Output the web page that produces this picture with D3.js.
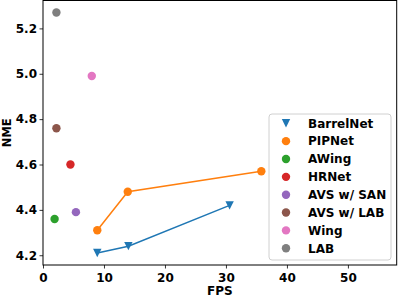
<!DOCTYPE html>
<html><head><meta charset="utf-8">
<script src="https://cdn.jsdelivr.net/npm/d3@7"></script>
<style>
body{margin:0;background:#fff;}
text{font-family:"DejaVu Sans",sans-serif;font-weight:bold;}
</style></head>
<body><svg id="c" width="399" height="299"></svg>
<script>
const seriesNames = ["BarrelNet","PIPNet","AWing","HRNet","AVS w/ SAN","AVS w/ LAB","Wing","LAB"];
const seriesColors = ["#1f77b4","#ff7f0e","#2ca02c","#d62728","#9467bd","#8c564b","#e377c2","#7f7f7f"];
const barrelFPS = [8.9, 14.0, 30.6];
const barrelNME = [4.21, 4.24, 4.42];
const pipFPS = [8.9, 13.9, 35.8];
const pipNME = [4.31, 4.48, 4.57];
const otherFPS = [1.9, 4.5, 5.4, 2.2, 8.0, 2.2];
const otherNME = [4.36, 4.60, 4.39, 4.76, 4.99, 5.27];
const xTicks = [0,10,20,30,40,50];
const yTicks = [4.2,4.4,4.6,4.8,5.0,5.2];
const xMax = 58;

const svg = d3.select("#c");
const W=399,H=299, m={l:43,r:2.3,t:0.5,b:34};
const allNME = barrelNME.concat(pipNME, otherNME);
const [ymin,ymax] = d3.extent(allNME);
const pad = (ymax-ymin)*0.05;
const x = d3.scaleLinear().domain([0,xMax]).range([m.l, W-m.r]);
const y = d3.scaleLinear().domain([ymin-pad, ymax+pad]).range([H-m.b, m.t]);

const xa = svg.append("g").attr("transform",`translate(0,${H-m.b})`)
  .call(d3.axisBottom(x).tickValues(xTicks).tickFormat(d3.format("d")).tickSize(3.5).tickPadding(4.8));
const ya = svg.append("g").attr("transform",`translate(${m.l},0)`)
  .call(d3.axisLeft(y).tickValues(yTicks).tickFormat(d3.format(".1f")).tickSize(3.5).tickPadding(2.5));
[xa,ya].forEach(a=>{a.select(".domain").remove();a.selectAll("text").attr("font-size",12).attr("font-weight","bold").attr("fill","#000");a.selectAll("line").attr("stroke","#000").attr("stroke-width",0.8);});

svg.append("rect").attr("x",m.l).attr("y",m.t).attr("width",W-m.r-m.l).attr("height",H-m.b-m.t)
  .attr("fill","none").attr("stroke","#000").attr("stroke-width",1);

const line = d3.line().x(d=>x(d[0])).y(d=>y(d[1]));
const triPath = "M-4.2,-4.2L4.2,-4.2L0,4.2Z";
function drawLineSeries(fps, nme, color, marker){
  const pts = fps.map((f,i)=>[f,nme[i]]);
  svg.append("path").attr("d",line(pts)).attr("fill","none").attr("stroke",color).attr("stroke-width",1.5);
  pts.forEach(p=>{
    if(marker==="v") svg.append("path").attr("d",triPath).attr("fill",color)
      .attr("transform",`translate(${x(p[0])},${y(p[1])})`);
    else svg.append("circle").attr("cx",x(p[0])).attr("cy",y(p[1])).attr("r",4.2).attr("fill",color);
  });
}
drawLineSeries(barrelFPS, barrelNME, seriesColors[0], "v");
drawLineSeries(pipFPS, pipNME, seriesColors[1], "o");
otherFPS.forEach((f,i)=>{
  svg.append("circle").attr("cx",x(f)).attr("cy",y(otherNME[i])).attr("r",4.2).attr("fill",seriesColors[i+2]);
});

svg.append("text").attr("x",(m.l+W-m.r)/2).attr("y",295).attr("text-anchor","middle").attr("font-size",12).text("FPS");
svg.append("text").attr("transform",`translate(10.5,${(m.t+H-m.b)/2}) rotate(-90)`).attr("text-anchor","middle").attr("font-size",11.5).text("NME");

// legend
const lg = svg.append("g");
lg.append("rect").attr("x",269).attr("y",114).attr("width",122).attr("height",146).attr("rx",3)
  .attr("fill","#fff").attr("fill-opacity",0.8).attr("stroke","#d0d0d0").attr("stroke-width",1);
seriesNames.forEach((n,i)=>{
  const yy = 123.3 + i*17.85;
  if(i===0) lg.append("path").attr("d",triPath).attr("fill",seriesColors[i]).attr("transform",`translate(286,${yy})`);
  else lg.append("circle").attr("cx",286).attr("cy",yy).attr("r",4.2).attr("fill",seriesColors[i]);
  lg.append("text").attr("x",308).attr("y",yy).attr("dy","0.36em").attr("font-size",12).text(n);
});
</script></body></html>
